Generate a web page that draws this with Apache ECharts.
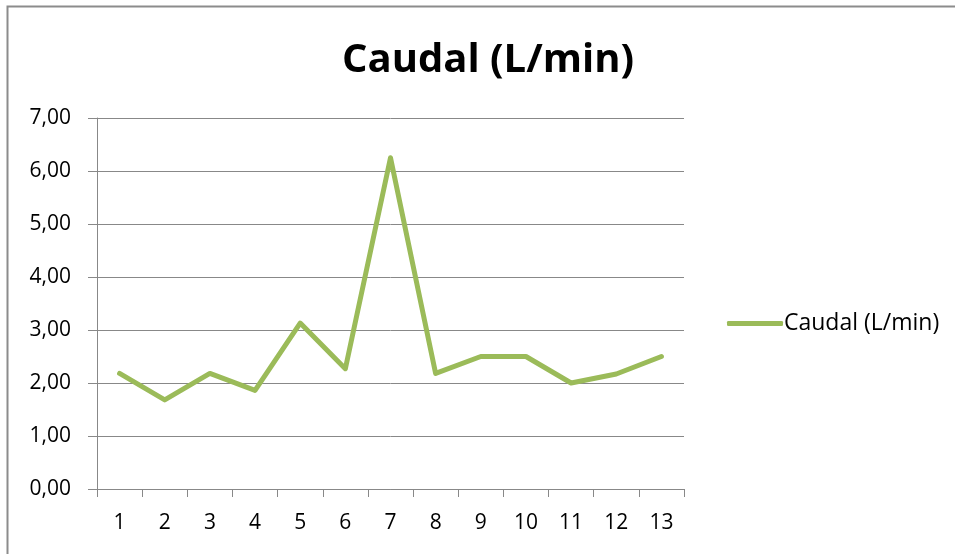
<!DOCTYPE html>
<html><head><meta charset="utf-8">
<script src="https://cdn.jsdelivr.net/npm/echarts@6/dist/echarts.min.js"></script>
<style>html,body{margin:0;padding:0;background:#fff}#c{width:955px;height:554px}</style>
</head><body><div id="c"></div>
<script>
const titleText = 'Caudal (L/min)';
const seriesName = 'Caudal (L/min)';
const categories = ['1','2','3','4','5','6','7','8','9','10','11','12','13'];
const caudal = [2.18, 1.68, 2.18, 1.86, 3.13, 2.27, 6.25, 2.18, 2.5, 2.5, 2.0, 2.17, 2.5];
const yTicks = [0, 1, 2, 3, 4, 5, 6, 7];

const chart = echarts.init(document.getElementById('c'), null, {renderer: 'canvas'});
const gray = '#888888';
const green = '#9BBB59';
chart.setOption({
  animation: false,
  backgroundColor: '#ffffff',
  title: {
    text: titleText, left: 483, top: 36, textAlign: 'center',
    textStyle: {fontFamily: 'Open Sans', fontWeight: 'bold', fontSize: 40, color: '#000'}
  },
  legend: {
    data: [{name: seriesName, icon: 'roundRect'}], left: 722, top: 307, itemWidth: 56, itemHeight: 5, itemGap: 4,
    itemStyle: {color: green},
    textStyle: {fontFamily: 'Open Sans', fontSize: 23, color: '#000', padding: [0, 0, 0, -4]}
  },
  grid: {left: 97, right: 271, top: 118, bottom: 65},
  xAxis: {
    type: 'category', data: categories, boundaryGap: true,
    axisLine: {lineStyle: {color: gray, width: 1}},
    axisTick: {show: true, length: 8, lineStyle: {color: gray}},
    axisLabel: {fontFamily: 'Open Sans', fontSize: 21, color: '#000', margin: 24}
  },
  yAxis: {
    type: 'value', min: yTicks[0], max: yTicks[yTicks.length - 1], interval: 1,
    axisLine: {show: true, lineStyle: {color: gray, width: 1}},
    axisTick: {show: true, length: 9, lineStyle: {color: gray}},
    splitLine: {show: true, lineStyle: {color: gray, width: 1}},
    axisLabel: {fontFamily: 'Open Sans', fontSize: 21, color: '#000', margin: 26,
      formatter: v => v.toFixed(2).replace('.', ',')}
  },
  series: [{
    name: seriesName, type: 'line', data: caudal, symbol: 'none', showSymbol: false,
    lineStyle: {color: green, width: 5, join: 'round', cap: 'round'},
    itemStyle: {color: green}
  }],
  graphic: [{
    type: 'polyline', silent: true,
    shape: {points: [[7.5, 554], [7.5, 6.5], [955, 6.5]]},
    style: {stroke: '#8c8c8c', lineWidth: 2, fill: null}
  }]
});
</script></body></html>
